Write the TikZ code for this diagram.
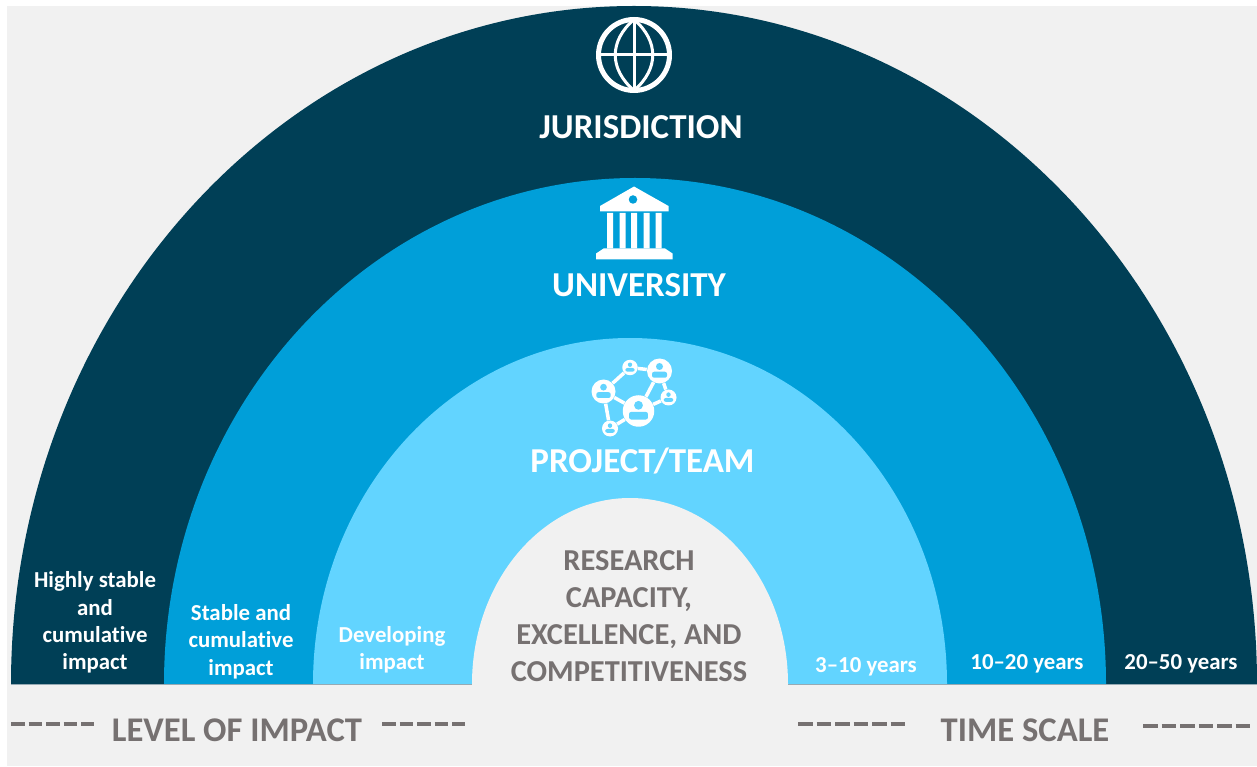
\documentclass[tikz,border=0pt]{standalone}
\usepackage{fontspec}
\setmainfont{Carlito}[Ligatures=NoCommon]
\definecolor{juriblue}{RGB}{0, 63, 86}
\definecolor{unitblue}{RGB}{0, 159, 217}
\definecolor{teamblue}{RGB}{98, 212, 255}
\definecolor{paper}{RGB}{241, 241, 241}
\definecolor{inkgray}{RGB}{118, 113, 113}
\definecolor{edgegray}{RGB}{150, 170, 180}
\tikzset{
  levellabel/.style={font=\fontsize{19.9}{24}\selectfont\bfseries, text=white, inner sep=0pt, anchor=base},
  impactlabel/.style={font=\fontsize{13}{15.6}\selectfont\bfseries, text=white, inner sep=0pt, align=center},
  axislabel/.style={font=\fontsize{19.7}{24}\selectfont\bfseries, text=inkgray, inner sep=0pt, anchor=base},
  dashrule/.style={draw=inkgray, line width=0.08cm, dash pattern=on 0.27cm off 0.08cm},
  dashrulelong/.style={draw=inkgray, line width=0.08cm, dash pattern=on 0.29cm off 0.08cm},
  netlink/.style={draw=white, line width=0.07cm},
  netnode/.style={circle, fill=white, inner sep=0pt},
  netperson/.pic={
    \fill[teamblue] (0,0.36) circle (0.28);
    \fill[teamblue, rounded corners=1.2pt] (-0.6,-0.54) rectangle (0.6,-0.06);
  }
}

\begin{document}
\begin{tikzpicture}
  \useasboundingbox (0,0) rectangle (25.14,15.32);
  \fill[paper] (0.14,0) rectangle (25.14,15.2);

  % The half rings
  \fill[juriblue] (0.22,1.64) arc[start angle=180, end angle=0, x radius=12.46, y radius=13.56] -- cycle;
  \fill[unitblue] (3.28,1.64) arc[start angle=180, end angle=0, x radius=9.42, y radius=10.12] -- cycle;
  \fill[teamblue] (6.26,1.64) arc[start angle=180, end angle=0, x radius=6.34, y radius=6.92] -- cycle;
  \fill[paper] (9.44,1.64) arc[start angle=180, end angle=0, x radius=3.16, y radius=3.72] -- (15.76,1.6) -- (9.44,1.6) -- cycle;
  \draw[edgegray, line width=0.02cm] (0.22,1.64) -- (9.44,1.64) (15.76,1.64) -- (25.14,1.64);

  % Globe
  \draw[white, line width=0.1cm] (12.68,14.22) circle (0.71);
  \draw[white, line width=0.06cm] (12.68,14.93) -- (12.68,13.51) (11.97,14.22) -- (13.39,14.22);
  \draw[white, line width=0.06cm] (12.68,14.93) .. controls (12.18,14.5) and (12.18,13.94) .. (12.68,13.51);
  \draw[white, line width=0.06cm] (12.68,14.93) .. controls (13.18,14.5) and (13.18,13.94) .. (12.68,13.51);
  \node[levellabel] (jurisdiction) at (12.82,12.55) {JURISDICTION};

  % Building
  \fill[white] (12.68,11.59) -- (13.37,11.2) -- (13.37,11.09) -- (12.0,11.09) -- (12.0,11.2) -- cycle;
  \fill[unitblue] (12.66,11.33) circle (0.085);
  \fill[white] (12.14,11.06) rectangle (12.26,10.35) (12.39,11.06) rectangle (12.51,10.35)
    (12.62,11.06) rectangle (12.74,10.35) (12.87,11.06) rectangle (12.99,10.35)
    (13.11,11.06) rectangle (13.23,10.35);
  \fill[white] (12.07,10.35) -- (13.3,10.35) -- (13.45,10.25) -- (13.45,10.13) -- (11.92,10.13) -- (11.92,10.25) -- cycle;
  \node[levellabel] (university) at (12.78,9.38) {UNIVERSITY};

  % People network
  \node[netnode, minimum size=0.48cm] (netA) at (12.07,7.49) {};
  \node[netnode, minimum size=0.31cm] (netB) at (12.6,7.97) {};
  \node[netnode, minimum size=0.5cm] (netC) at (13.19,7.9) {};
  \node[netnode, minimum size=0.32cm] (netD) at (13.37,7.37) {};
  \node[netnode, minimum size=0.63cm] (netE) at (12.77,7.1) {};
  \node[netnode, minimum size=0.32cm] (netF) at (12.2,6.75) {};
  \draw[netlink] (netA) -- (netB);
  \draw[netlink] (netB) -- (netC);
  \draw[netlink] (netA) -- (netE);
  \draw[netlink] (netC) -- (netE);
  \draw[netlink] (netC) -- (netD);
  \draw[netlink] (netD) -- (netE);
  \draw[netlink] (netA) -- (netF);
  \draw[netlink] (netF) -- (netE);
  \pic[scale=0.24] at (netA) {netperson};
  \pic[scale=0.155] at (netB) {netperson};
  \pic[scale=0.25] at (netC) {netperson};
  \pic[scale=0.16] at (netD) {netperson};
  \pic[scale=0.315] at (netE) {netperson};
  \pic[scale=0.16] at (netF) {netperson};
  \node[levellabel] (team) at (12.85,5.88) {PROJECT/TEAM};

  % Core of the rings
  \node[font=\fontsize{17.3}{21.1}\selectfont\bfseries, text=inkgray, inner sep=0pt, align=center] (core) at (12.58,3.0) {
    RESEARCH\\
    CAPACITY,\\
    EXCELLENCE, AND\\
    COMPETITIVENESS
  };

  % Impact on the left
  \node[impactlabel] (highly) at (1.9,2.87) {Highly stable\\and\\cumulative\\impact};
  \node[impactlabel] (stable) at (4.82,2.49) {Stable and\\cumulative\\impact};
  \node[impactlabel] (developing) at (7.84,2.32) {Developing\\impact};

  % Time on the right
  \node[impactlabel] (shortterm) at (17.32,1.98) {3–10 years};
  \node[impactlabel] (midterm) at (20.54,2.04) {10–20 years};
  \node[impactlabel] (longterm) at (23.62,2.04) {20–50 years};

  % Bottom axis labels
  \node[axislabel] (impactaxis) at (4.74,0.5) {LEVEL OF IMPACT};
  \node[axislabel] (timeaxis) at (20.5,0.5) {TIME SCALE};
  \draw[dashrule] (0.22,0.84) -- (1.88,0.84);
  \draw[dashrule] (7.64,0.84) -- (9.3,0.84);
  \draw[dashrulelong] (15.96,0.84) -- (18.1,0.84);
  \draw[dashrulelong] (22.86,0.8) -- (25.0,0.8);
\end{tikzpicture}
\end{document}
